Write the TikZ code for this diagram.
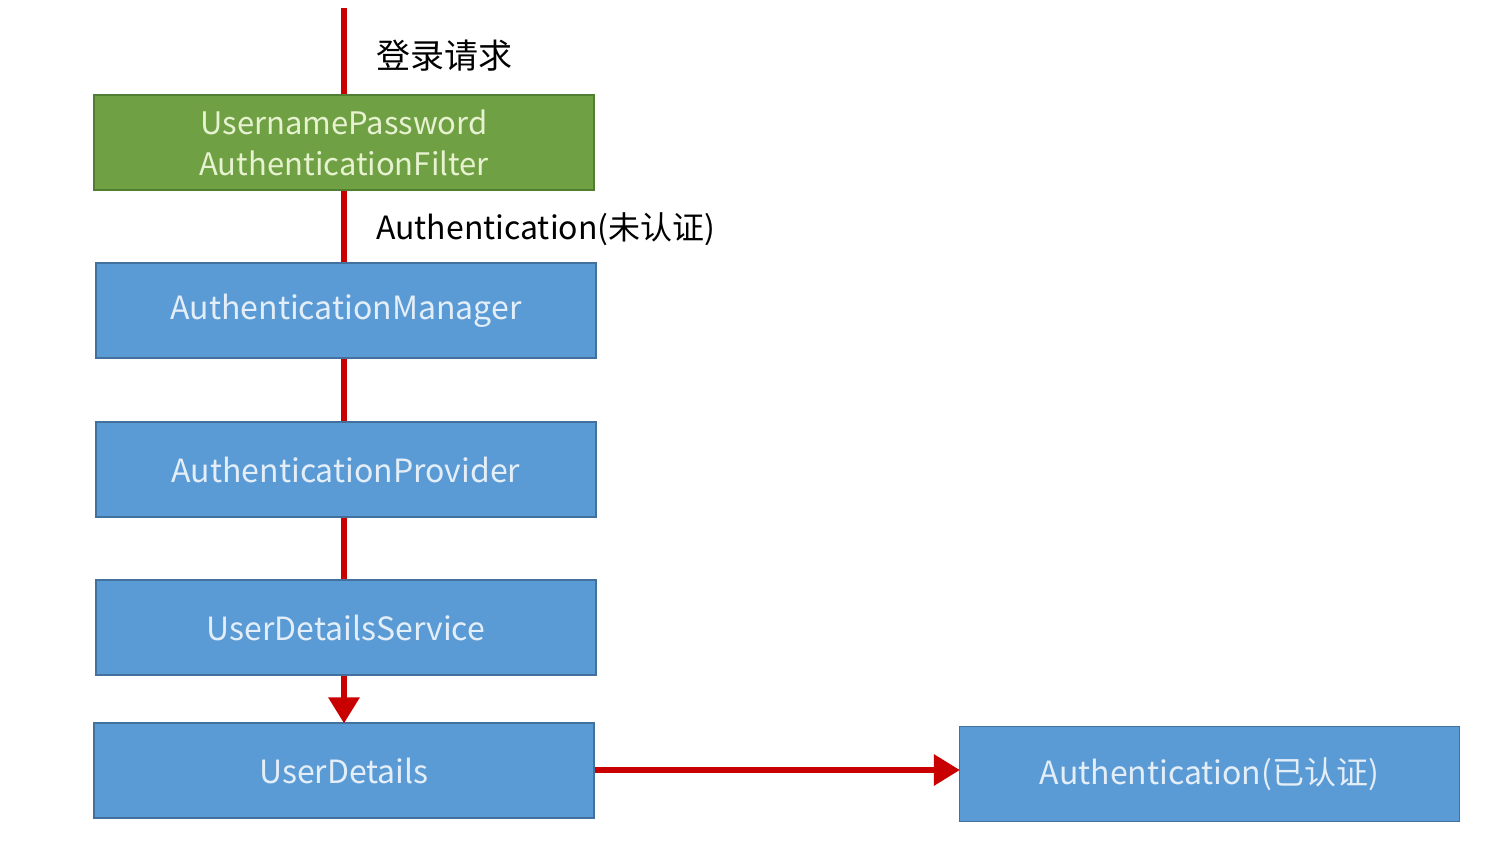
\documentclass[tikz,border=0pt]{standalone}
\usepackage{fontspec}
\setmainfont{Noto Sans CJK SC}
\usetikzlibrary{arrows.meta}
\definecolor{boxblue}{HTML}{5B9BD5}
\definecolor{boxblueline}{HTML}{41719C}
\definecolor{boxgreen}{HTML}{70A044}
\definecolor{boxgreenline}{HTML}{507E32}
\definecolor{bluetext}{HTML}{E3EEF8}
\definecolor{greentext}{HTML}{E6F2D0}
\definecolor{flowred}{HTML}{C80000}
\tikzset{
  bluebox/.style={draw=boxblueline, line width=1.2pt, fill=boxblue, text=bluetext,
    minimum width=500pt, minimum height=95pt, inner sep=0pt, font=\fontsize{32}{41}\selectfont, align=center},
  greenbox/.style={bluebox, draw=boxgreenline, fill=boxgreen, text=greentext, font=\fontsize{31}{41}\selectfont},
  flow/.style={draw=flowred, line width=6pt},
  flowarrow/.style={flow, -{Triangle[width=30pt,length=26pt]}, shorten >=-1pt},
  lbl/.style={font=\fontsize{32}{38}\selectfont, text=black, anchor=west, inner sep=0pt}
}
\begin{document}
\begin{tikzpicture}[x=1pt,y=-1pt]
\useasboundingbox (0,0) rectangle (1487,841);
\coordinate (start) at (344,8);
\node[greenbox] (filter) at (344,142.5) {UsernamePassword\\AuthenticationFilter};
\node[bluebox] (manager) at (346,310.5) {AuthenticationManager};
\node[bluebox] (provider) at (346,469.5) {AuthenticationProvider};
\node[bluebox] (uds) at (346,627.5) {UserDetailsService};
\node[bluebox] (ud) at (344,770.5) {UserDetails};
\node[bluebox] (authok) at (1209.5,774) {Authentication(已认证)};
\draw[flow] (start) -- (filter.north -| start);
\draw[flow] (filter.south -| start) -- (manager.north -| start);
\draw[flow] (manager.south -| start) -- (provider.north -| start);
\draw[flow] (provider.south -| start) -- (uds.north -| start);
\draw[flowarrow] (uds.south -| start) -- (ud.north -| start);
\draw[flowarrow] (ud.east |- 0,770) -- (authok.west |- 0,770);
\node[lbl, font=\fontsize{34}{40}\selectfont] (req) at (376,56) {登录请求};
\node[lbl] (unauth) at (376,229) {Authentication(未认证)};
\end{tikzpicture}
\end{document}
